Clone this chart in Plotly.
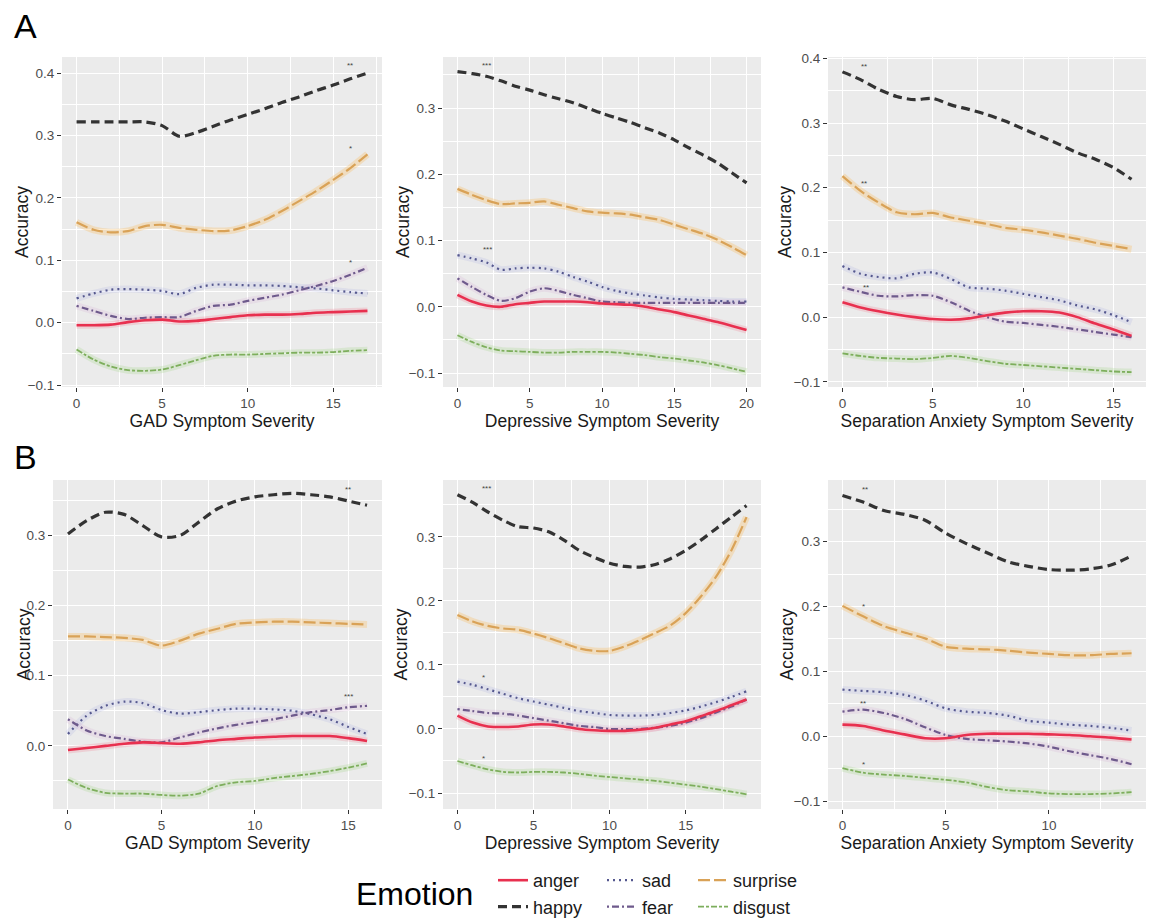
import plotly.graph_objects as go

# ---------------- data ----------------
emotions = ["anger", "happy", "sad", "fear", "surprise", "disgust"]

# Row A
a_gad_x = list(range(0, 18))
a_gad = {
    "happy":    [0.322,0.322,0.322,0.322,0.322,0.316,0.299,0.305,0.315,0.325,0.334,0.343,0.353,0.362,0.372,0.381,0.391,0.400],
    "surprise": [0.161,0.149,0.145,0.147,0.155,0.157,0.152,0.149,0.147,0.148,0.155,0.165,0.179,0.195,0.211,0.229,0.248,0.270],
    "sad":      [0.039,0.047,0.053,0.054,0.053,0.051,0.046,0.056,0.061,0.061,0.060,0.060,0.059,0.057,0.055,0.052,0.049,0.047],
    "fear":     [0.027,0.019,0.011,0.006,0.008,0.009,0.009,0.019,0.027,0.029,0.035,0.040,0.045,0.052,0.059,0.067,0.077,0.088],
    "anger":    [-0.004,-0.004,-0.003,0.001,0.004,0.005,0.002,0.003,0.006,0.009,0.012,0.013,0.013,0.014,0.016,0.017,0.018,0.019],
    "disgust":  [-0.043,-0.059,-0.070,-0.076,-0.077,-0.075,-0.068,-0.060,-0.053,-0.051,-0.051,-0.050,-0.049,-0.048,-0.048,-0.047,-0.045,-0.044],
}
a_dep_x = list(range(0, 21))
a_dep = {
    "happy":    [0.355,0.352,0.348,0.341,0.333,0.327,0.320,0.314,0.308,0.300,0.292,0.285,0.278,0.270,0.262,0.252,0.240,0.229,0.217,0.202,0.187],
    "surprise": [0.178,0.169,0.161,0.155,0.156,0.157,0.159,0.154,0.149,0.144,0.142,0.141,0.139,0.135,0.131,0.124,0.117,0.110,0.101,0.090,0.078],
    "sad":      [0.078,0.073,0.067,0.056,0.058,0.059,0.058,0.053,0.045,0.038,0.030,0.024,0.020,0.017,0.014,0.012,0.011,0.010,0.009,0.008,0.008],
    "fear":     [0.043,0.030,0.018,0.009,0.013,0.023,0.028,0.024,0.018,0.013,0.008,0.007,0.006,0.006,0.006,0.006,0.006,0.006,0.006,0.006,0.006],
    "anger":    [0.018,0.008,0.002,0.000,0.004,0.006,0.008,0.008,0.008,0.007,0.005,0.004,0.003,0.000,-0.004,-0.008,-0.013,-0.018,-0.023,-0.029,-0.035],
    "disgust":  [-0.043,-0.053,-0.061,-0.066,-0.067,-0.068,-0.069,-0.069,-0.068,-0.068,-0.068,-0.069,-0.071,-0.073,-0.076,-0.078,-0.081,-0.084,-0.088,-0.093,-0.098],
}
a_sep_x = list(range(0, 17))
a_sep = {
    "happy":    [0.379,0.367,0.352,0.341,0.336,0.338,0.328,0.321,0.313,0.303,0.291,0.279,0.267,0.254,0.244,0.231,0.213],
    "surprise": [0.218,0.195,0.177,0.162,0.159,0.161,0.154,0.149,0.144,0.138,0.135,0.131,0.126,0.121,0.115,0.110,0.105],
    "sad":      [0.079,0.067,0.062,0.060,0.067,0.069,0.059,0.046,0.044,0.041,0.036,0.031,0.026,0.018,0.012,0.003,-0.008],
    "fear":     [0.046,0.039,0.033,0.032,0.034,0.033,0.023,0.010,0.000,-0.007,-0.009,-0.012,-0.015,-0.019,-0.023,-0.027,-0.031],
    "anger":    [0.023,0.015,0.009,0.004,0.000,-0.003,-0.004,-0.002,0.003,0.007,0.009,0.009,0.007,0.000,-0.010,-0.019,-0.029],
    "disgust":  [-0.056,-0.060,-0.063,-0.064,-0.065,-0.063,-0.060,-0.063,-0.068,-0.072,-0.074,-0.076,-0.078,-0.080,-0.082,-0.084,-0.085],
}
# Row B
b_gad_x = list(range(0, 17))
b_gad = {
    "happy":    [0.302,0.321,0.333,0.330,0.314,0.298,0.300,0.319,0.338,0.349,0.355,0.358,0.360,0.358,0.355,0.349,0.343],
    "surprise": [0.156,0.156,0.155,0.154,0.151,0.143,0.150,0.160,0.167,0.174,0.176,0.177,0.177,0.176,0.175,0.174,0.173],
    "sad":      [0.017,0.043,0.057,0.063,0.061,0.051,0.046,0.048,0.051,0.053,0.053,0.052,0.050,0.045,0.038,0.027,0.017],
    "fear":     [0.038,0.022,0.014,0.010,0.006,0.005,0.012,0.019,0.025,0.030,0.034,0.038,0.043,0.048,0.051,0.055,0.057],
    "anger":    [-0.006,-0.003,0.000,0.003,0.005,0.004,0.003,0.005,0.008,0.010,0.012,0.013,0.014,0.014,0.014,0.011,0.007],
    "disgust":  [-0.048,-0.060,-0.067,-0.068,-0.068,-0.070,-0.071,-0.068,-0.057,-0.052,-0.050,-0.046,-0.043,-0.040,-0.036,-0.031,-0.025],
}
b_dep_x = list(range(0, 20))
b_dep = {
    "happy":    [0.366,0.354,0.339,0.326,0.316,0.314,0.308,0.295,0.279,0.268,0.259,0.254,0.253,0.257,0.266,0.279,0.295,0.313,0.331,0.349],
    "surprise": [0.178,0.168,0.161,0.157,0.155,0.149,0.142,0.134,0.126,0.122,0.122,0.129,0.139,0.150,0.162,0.181,0.207,0.238,0.279,0.331],
    "sad":      [0.074,0.069,0.062,0.055,0.048,0.043,0.038,0.033,0.028,0.025,0.022,0.021,0.021,0.022,0.025,0.029,0.035,0.042,0.050,0.059],
    "fear":     [0.031,0.028,0.025,0.024,0.021,0.017,0.013,0.009,0.005,0.003,0.000,0.000,0.000,0.002,0.005,0.010,0.017,0.026,0.035,0.046],
    "anger":    [0.021,0.010,0.004,0.003,0.004,0.007,0.007,0.004,0.000,-0.002,-0.003,-0.003,-0.001,0.002,0.007,0.012,0.020,0.028,0.037,0.046],
    "disgust":  [-0.050,-0.057,-0.063,-0.067,-0.068,-0.067,-0.067,-0.068,-0.070,-0.073,-0.075,-0.077,-0.079,-0.081,-0.084,-0.087,-0.090,-0.094,-0.098,-0.102],
}
b_sep_x = list(range(0, 15))
b_sep = {
    "happy":    [0.371,0.361,0.348,0.342,0.333,0.313,0.297,0.283,0.269,0.262,0.257,0.256,0.258,0.264,0.278],
    "surprise": [0.201,0.185,0.170,0.160,0.151,0.138,0.135,0.134,0.132,0.129,0.127,0.125,0.125,0.127,0.128],
    "sad":      [0.072,0.070,0.068,0.064,0.055,0.043,0.038,0.036,0.032,0.024,0.021,0.018,0.016,0.013,0.009],
    "fear":     [0.038,0.041,0.036,0.027,0.014,0.002,-0.004,-0.006,-0.008,-0.011,-0.016,-0.023,-0.029,-0.035,-0.043],
    "anger":    [0.018,0.016,0.009,0.003,-0.003,-0.003,0.002,0.004,0.004,0.004,0.003,0.002,0.000,-0.002,-0.005],
    "disgust":  [-0.049,-0.056,-0.059,-0.061,-0.064,-0.067,-0.071,-0.078,-0.083,-0.085,-0.088,-0.089,-0.089,-0.088,-0.086],
}

x_titles = ["GAD Symptom Severity", "Depressive Symptom Severity", "Separation Anxiety Symptom Severity"]
y_title = "Accuracy"

# significance markers: (panel index, x, y, text)
stars = [
    (0, 16, 0.412, "**"), (0, 16, 0.280, "*"), (0, 16, 0.096, "*"),
    (1, 2, 0.364, "***"), (1, 2.1, 0.087, "***"),
    (2, 1.2, 0.388, "**"), (2, 1.2, 0.206, "**"), (2, 1.3, 0.046, "**"),
    (3, 15, 0.366, "**"), (3, 15, 0.071, "***"),
    (4, 1.9, 0.375, "***"), (4, 1.7, 0.080, "*"), (4, 1.7, -0.046, "*"),
    (5, 1.1, 0.381, "**"), (5, 1.0, 0.200, "*"), (5, 1.0, 0.051, "**"), (5, 1.0, -0.044, "*"),
]

# ---------------- styling ----------------
W, H = 1151, 919
colors = {
    "anger": "#E8304F", "happy": "#333333", "sad": "#55588F",
    "fear": "#6E5A8C", "surprise": "#D9A257", "disgust": "#7DAE5C",
}
halo = {
    "anger": "rgba(240,110,130,0.22)", "happy": "rgba(0,0,0,0)", "sad": "rgba(140,150,220,0.15)",
    "fear": "rgba(200,140,200,0.15)", "surprise": "rgba(250,190,100,0.32)", "disgust": "rgba(150,210,120,0.22)",
}
dashes = {
    "anger": "solid", "happy": "9px,5px", "sad": "2px,4px",
    "fear": "2px,3px,7px,3px", "surprise": "12px,4px", "disgust": "6px,2px,3px,2px",
}
widths = {"anger": 2.6, "happy": 3.2, "sad": 2.2, "fear": 2.2, "surprise": 2.2, "disgust": 1.8}
legend_of = {"anger": "legend", "happy": "legend", "sad": "legend2", "fear": "legend2",
             "surprise": "legend3", "disgust": "legend3"}

panels = [
    (a_gad_x, a_gad, [-0.85, 17.85], [-0.103, 0.426]),
    (a_dep_x, a_dep, [-1.0, 21.0], [-0.121, 0.377]),
    (a_sep_x, a_sep, [-0.8, 16.8], [-0.108, 0.402]),
    (b_gad_x, b_gad, [-0.8, 16.8], [-0.090, 0.379]),
    (b_dep_x, b_dep, [-0.95, 19.95], [-0.125, 0.389]),
    (b_sep_x, b_sep, [-0.7, 14.7], [-0.112, 0.395]),
]
# panel pixel boxes (left, right, top, bottom)
boxes = [
    (62, 382, 57, 387), (443, 761, 57, 387), (828, 1146, 57, 387),
    (53, 382, 480, 809), (443, 761, 480, 809), (828, 1146, 480, 809),
]
# x centre (pixels) of each panel's y-axis title
ytitle_x = [22, 403, 785, 23, 400, 786]

fig = go.Figure()
draw_order = ["disgust", "surprise", "sad", "fear", "happy", "anger"]
legend_order = ["anger", "happy", "sad", "fear", "surprise", "disgust"]

for i, (xs, series, xr, yr) in enumerate(panels):
    ax = "" if i == 0 else str(i + 1)
    for emo in draw_order:
        if emo != "happy":
            fig.add_trace(go.Scatter(
                x=xs, y=series[emo], mode="lines", xaxis="x" + ax, yaxis="y" + ax,
                line=dict(color=halo[emo], width=7, shape="spline", smoothing=0.8),
                showlegend=False, hoverinfo="skip"))
    for emo in draw_order:
        fig.add_trace(go.Scatter(
            x=xs, y=series[emo], mode="lines", xaxis="x" + ax, yaxis="y" + ax,
            name=emo, legend=legend_of[emo], legendrank=legend_order.index(emo) + 1,
            showlegend=(i == 0),
            line=dict(color=colors[emo], width=widths[emo], dash=dashes[emo],
                      shape="spline", smoothing=0.8)))

layout = dict(
    width=W, height=H,
    margin=dict(l=0, r=0, t=0, b=0, autoexpand=False),
    paper_bgcolor="white", plot_bgcolor="#EBEBEB",
    font=dict(family="Liberation Sans, Arial, sans-serif", color="#000000"),
    annotations=[],
)

for i, (xs, series, xr, yr) in enumerate(panels):
    ax = "" if i == 0 else str(i + 1)
    l, r, t, b = boxes[i]
    xdtick = 5
    common_font = dict(size=13.5, color="#4D4D4D")
    layout["xaxis" + ax] = dict(
        domain=[l / W, r / W], range=xr, anchor="y" + ax,
        tick0=0, dtick=xdtick, ticks="outside", ticklen=4, tickcolor="#333333",
        tickfont=common_font, showgrid=True, gridcolor="white", gridwidth=1.3,
        zeroline=False, showline=False,
        minor=dict(dtick=xdtick / 2, tick0=0, showgrid=True, gridcolor="white", gridwidth=0.6, ticks=""),
        title=dict(text=x_titles[i % 3], font=dict(size=17.5, color="#1a1a1a"), standoff=0),
        fixedrange=True,
    )
    layout["yaxis" + ax] = dict(
        domain=[1 - b / H, 1 - t / H], range=yr, anchor="x" + ax,
        tick0=0, dtick=0.1, tickformat=".1f", ticks="outside", ticklen=4, tickcolor="#333333",
        tickfont=common_font, showgrid=True, gridcolor="white", gridwidth=1.3,
        zeroline=False, showline=False,
        minor=dict(dtick=0.05, tick0=0, showgrid=True, gridcolor="white", gridwidth=0.6, ticks=""),
        fixedrange=True,
    )
    # y-axis title
    layout["annotations"].append(dict(
        x=ytitle_x[i] / W, y=1 - (t + b) / 2 / H, xref="paper", yref="paper", text=y_title,
        textangle=-90, showarrow=False, xanchor="center", yanchor="middle",
        font=dict(size=17.5, color="#1a1a1a")))

for (pi, sx, sy, txt) in stars:
    ax = "" if pi == 0 else str(pi + 1)
    layout["annotations"].append(dict(
        x=sx, y=sy, xref="x" + ax, yref="y" + ax, text=txt, showarrow=False,
        font=dict(size=8, color="#444444")))

# panel labels
layout["annotations"].append(dict(x=12 / W, y=1 - 26 / H, xref="paper", yref="paper", text="A",
                                  showarrow=False, xanchor="left", yanchor="middle",
                                  font=dict(size=34, color="#000000")))
layout["annotations"].append(dict(x=12 / W, y=1 - 457 / H, xref="paper", yref="paper", text="B",
                                  showarrow=False, xanchor="left", yanchor="middle",
                                  font=dict(size=34, color="#000000")))
# legend title
layout["annotations"].append(dict(x=414 / W, y=1 - 894 / H, xref="paper", yref="paper", text="Emotion",
                                  showarrow=False, xanchor="center", yanchor="middle",
                                  font=dict(size=32, color="#000000")))

leg_common = dict(orientation="v", yanchor="top", xanchor="left", bgcolor="rgba(0,0,0,0)",
                  font=dict(size=18, color="#1a1a1a"), tracegroupgap=0, itemwidth=30)
layout["legend"] = dict(x=493 / W, y=1 - 862 / H, **leg_common)
layout["legend2"] = dict(x=602 / W, y=1 - 862 / H, **leg_common)
layout["legend3"] = dict(x=693 / W, y=1 - 862 / H, **leg_common)

fig.update_layout(**layout)
fig.write_html("out.html", config={"displayModeBar": False},
               post_script="document.body.style.margin='0px';document.body.style.overflow='hidden';")
